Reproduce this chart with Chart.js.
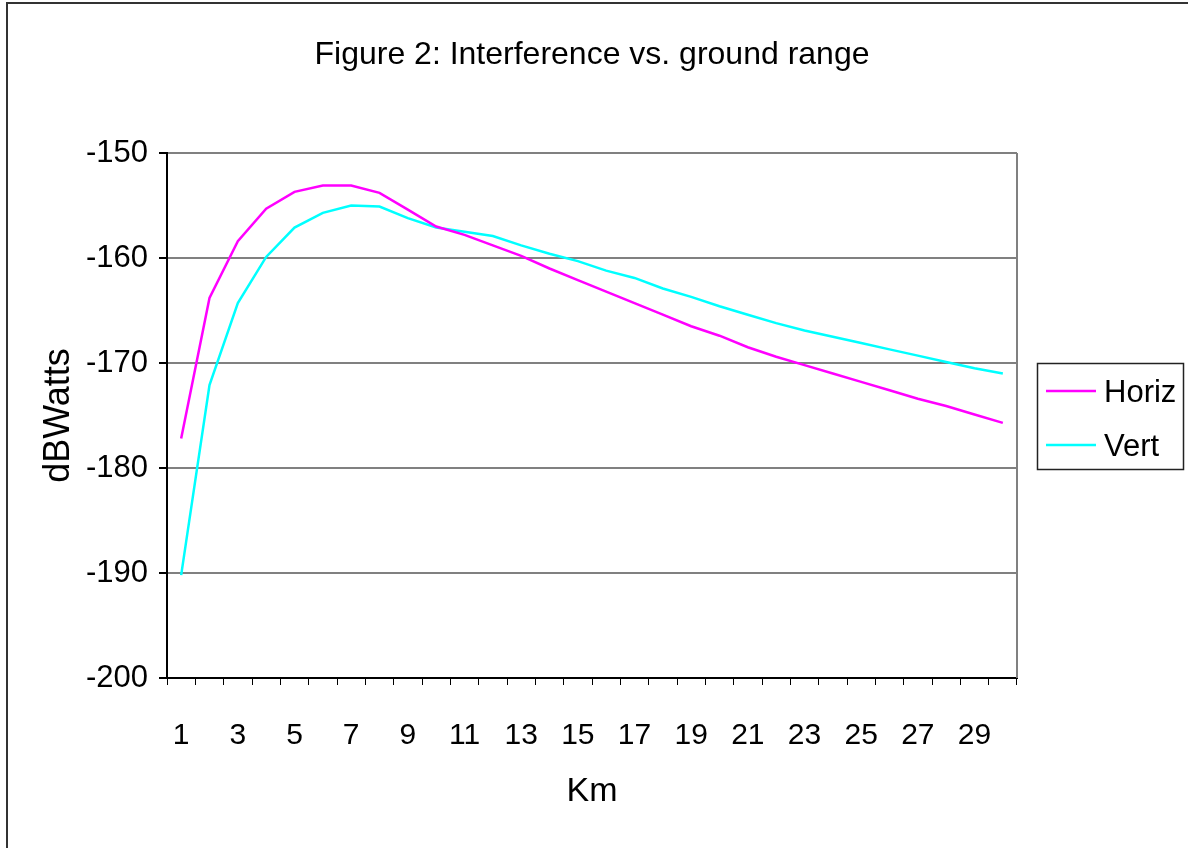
<!DOCTYPE html>
<html>
<head>
<meta charset="utf-8">
<script src="https://cdn.jsdelivr.net/npm/chart.js@4.4.1/dist/chart.umd.min.js"></script>
<style>
  html, body { margin: 0; padding: 0; background: #fff; }
  #wrap { width: 1188px; height: 848px; position: relative; }
</style>
</head>
<body>
<div id="wrap"><canvas id="c" width="1188" height="848"></canvas></div>
<script>
// Ground range in km
const rangeKm = [1, 2, 3, 4, 5, 6, 7, 8, 9, 10, 11, 12, 13, 14, 15,
                 16, 17, 18, 19, 20, 21, 22, 23, 24, 25, 26, 27, 28, 29, 30];

// Interference level (dBW), horizontal polarisation
const horiz = [-177.2, -163.8, -158.4, -155.3, -153.7, -153.1, -153.1, -153.8, -155.4, -157.0,
               -157.8, -158.8, -159.8, -161.0, -162.1, -163.2, -164.3, -165.4, -166.5, -167.4,
               -168.5, -169.4, -170.2, -171.0, -171.8, -172.6, -173.4, -174.1, -174.9, -175.7];

// Interference level (dBW), vertical polarisation
const vert = [-190.2, -172.1, -164.3, -159.9, -157.1, -155.7, -155.0, -155.1, -156.2, -157.1,
              -157.5, -157.9, -158.8, -159.6, -160.3, -161.2, -161.9, -162.9, -163.7, -164.6,
              -165.4, -166.2, -166.9, -167.5, -168.1, -168.7, -169.3, -169.9, -170.5, -171.0];

const yTicks = [-200, -190, -180, -170, -160, -150];

const FONT = "'Liberation Sans', Arial, sans-serif";

// White page, frame lines, plot-area right edge and the boxed legend
const decor = {
  id: 'decor',
  beforeDraw(chart) {
    const ctx = chart.ctx;
    ctx.save();
    ctx.fillStyle = '#fff';
    ctx.fillRect(0, 0, chart.width, chart.height);
    ctx.strokeStyle = '#333';
    ctx.lineWidth = 2;
    ctx.beginPath();
    ctx.moveTo(7, chart.height);
    ctx.lineTo(7, 3);
    ctx.lineTo(chart.width, 3);
    ctx.stroke();
    ctx.restore();
  },
  afterDraw(chart) {
    const ctx = chart.ctx;
    const a = chart.chartArea;
    ctx.save();
    ctx.strokeStyle = '#808080';
    ctx.lineWidth = 2;
    ctx.beginPath();
    ctx.moveTo(a.right, a.top);
    ctx.lineTo(a.right, a.bottom);
    ctx.stroke();

    // legend
    const bx = a.right + 20, by = 363, bw = 146, bh = 106;
    ctx.strokeStyle = '#222';
    ctx.lineWidth = 1.5;
    ctx.strokeRect(bx + 0.5, by + 0.5, bw, bh);
    ctx.font = '31px ' + FONT;
    ctx.textBaseline = 'middle';
    ctx.fillStyle = '#000';
    chart.data.datasets.forEach((ds, i) => {
      const y = by + 28 + i * 54;
      ctx.strokeStyle = ds.borderColor;
      ctx.lineWidth = 2.5;
      ctx.beginPath();
      ctx.moveTo(bx + 9, y);
      ctx.lineTo(bx + 59, y);
      ctx.stroke();
      ctx.fillText(ds.label, bx + 67, y + 2);
    });
    ctx.restore();
  }
};

new Chart(document.getElementById('c'), {
  type: 'line',
  data: {
    labels: rangeKm,
    datasets: [
      { label: 'Horiz', data: horiz, borderColor: '#ff00ff', backgroundColor: '#ff00ff',
        borderWidth: 2.5, pointRadius: 0, tension: 0, fill: false },
      { label: 'Vert', data: vert, borderColor: '#00ffff', backgroundColor: '#00ffff',
        borderWidth: 2.5, pointRadius: 0, tension: 0, fill: false }
    ]
  },
  options: {
    responsive: false,
    animation: false,
    layout: { padding: { left: 0, right: 171, top: 0, bottom: 0 } },
    plugins: {
      legend: { display: false },
      tooltip: { enabled: false },
      title: {
        display: true,
        fullSize: false,
        text: 'Figure 2: Interference vs. ground range',
        color: '#000',
        font: { family: FONT, size: 32, weight: 'normal' },
        padding: { top: 36, bottom: 78.6 }
      }
    },
    scales: {
      x: {
        type: 'category',
        offset: true,
        afterFit(scale) { scale.height = 170; },
        grid: { display: true, offset: true, drawOnChartArea: false, drawTicks: true,
                tickLength: 7, tickColor: '#000', color: '#000' },
        border: { display: true, color: '#000', width: 2 },
        ticks: {
          autoSkip: false, maxRotation: 0, padding: 33, color: '#000',
          font: { family: FONT, size: 30 },
          callback(value, index) { return index % 2 === 0 ? this.getLabelForValue(value) : ''; }
        },
        title: { display: true, text: 'Km', color: '#000',
                 font: { family: FONT, size: 34 }, padding: { top: 0, bottom: 36 } }
      },
      y: {
        min: -200, max: -150,
        afterFit(scale) { scale.width = 167; },
        afterBuildTicks(scale) { scale.ticks = yTicks.map(v => ({ value: v })); },
        grid: { color: '#808080', lineWidth: 2, drawTicks: true, tickLength: 8, tickColor: '#000' },
        border: { display: true, color: '#000', width: 2 },
        ticks: { padding: 11, color: '#000', font: { family: FONT, size: 31 } },
        title: { display: true, text: 'dBWatts', color: '#000',
                 font: { family: FONT, size: 36 }, padding: { top: 37, bottom: 0 } }
      }
    }
  },
  plugins: [decor]
});
</script>
</body>
</html>
